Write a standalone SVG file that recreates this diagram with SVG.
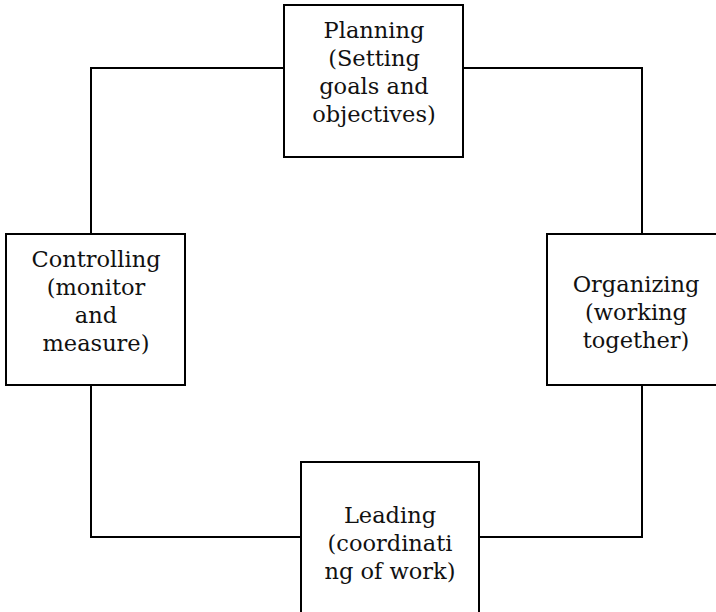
<svg xmlns="http://www.w3.org/2000/svg" width="716" height="612" viewBox="0 0 716 612">
  <style>
    .box { fill: #ffffff; stroke: #000000; stroke-width: 2; }
    .wire { fill: none; stroke: #000000; stroke-width: 2; }
    .label { font-family: "DejaVu Serif", "Liberation Serif", serif; font-size: 22.5px; fill: #111111; text-anchor: middle; }
  </style>
  <rect x="0" y="0" width="716" height="612" fill="#ffffff"/>

  <g id="connectors">
    <polyline class="wire" points="284,68 91,68 91,234"/>
    <polyline class="wire" points="463,68 642,68 642,234"/>
    <polyline class="wire" points="91,385 91,537 301,537"/>
    <polyline class="wire" points="642,385 642,537 479,537"/>
  </g>

  <g id="planning">
    <rect class="box" x="284" y="5" width="179" height="152"/>
    <text class="label" x="374" y="38">Planning</text>
    <text class="label" x="374" y="66">(Setting</text>
    <text class="label" x="374" y="94">goals and</text>
    <text class="label" x="374" y="122">objectives)</text>
  </g>

  <g id="controlling">
    <rect class="box" x="6" y="234" width="179" height="151"/>
    <text class="label" x="96" y="267">Controlling</text>
    <text class="label" x="96" y="295">(monitor</text>
    <text class="label" x="96" y="323">and</text>
    <text class="label" x="96" y="351">measure)</text>
  </g>

  <g id="organizing">
    <rect class="box" x="547" y="234" width="190" height="151"/>
    <text class="label" x="636" y="292">Organizing</text>
    <text class="label" x="636" y="320">(working</text>
    <text class="label" x="636" y="348">together)</text>
  </g>

  <g id="leading">
    <rect class="box" x="301" y="462" width="178" height="170"/>
    <text class="label" x="390" y="523">Leading</text>
    <text class="label" x="390" y="551">(coordinati</text>
    <text class="label" x="390" y="579">ng of work)</text>
  </g>
</svg>
